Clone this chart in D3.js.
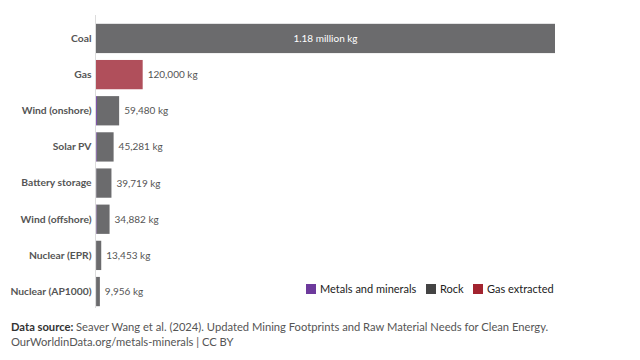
<!DOCTYPE html>
<html><head><meta charset="utf-8">
<script src="https://cdn.jsdelivr.net/npm/d3@7"></script>
<style>body{margin:0;background:#fff;}svg{display:block;font-family:Lato,"Noto Sans",sans-serif;}</style>
</head><body><svg id="c" width="640" height="360"></svg>
<script>
const categories = ["Coal","Gas","Wind (onshore)","Solar PV","Battery storage","Wind (offshore)","Nuclear (EPR)","Nuclear (AP1000)"];
const metals = [0, 0, 2500, 2000, 700, 1500, 300, 250];
const rock = [1180000, 0, 56980, 43281, 39019, 33382, 13153, 9706];
const gasExtracted = [0, 120000, 0, 0, 0, 0, 0, 0];
const totalLabels = ["1.18 million kg","120,000 kg","59,480 kg","45,281 kg","39,719 kg","34,882 kg","13,453 kg","9,956 kg"];
const seriesNames = ["Metals and minerals","Rock","Gas extracted"];

const svg = d3.select("#c");
const mLeft = 96, mRight = 555, mTop = 22, mBottom = 308;
const rows = categories.map((c,i)=>({cat:c, m:metals[i], r:rock[i], g:gasExtracted[i], label:totalLabels[i]}));
const x = d3.scaleLinear().domain([0, d3.max(rows, d=>d.m+d.r+d.g)]).range([mLeft, mRight]);
const y = d3.scaleBand().domain(categories).range([mTop, mBottom]).paddingInner(0.19).paddingOuter(0.05);

const barCol = {"Metals and minerals":"#7c4fa8","Rock":"#6b6b6d","Gas extracted":"#b04f5b"};
const legCol = {"Metals and minerals":"#6d3a9c","Rock":"#444444","Gas extracted":"#a2242f"};
const stack = d3.stack().keys(["m","r","g"])(rows);
const keyName = {m:"Metals and minerals", r:"Rock", g:"Gas extracted"};

svg.append("line").attr("x1",mLeft-0.5).attr("x2",mLeft-0.5).attr("y1",15).attr("y2",mBottom)
  .attr("stroke","#dcdcdc").attr("stroke-width",1);

stack.forEach(s=>{
  svg.append("g").selectAll("rect").data(s).join("rect")
    .attr("x",d=>x(d[0])).attr("width",d=>Math.max(0,x(d[1])-x(d[0])))
    .attr("y",d=>y(d.data.cat)).attr("height",y.bandwidth())
    .attr("fill",barCol[keyName[s.key]]);
});

const yAxis = d3.axisLeft(y).tickSize(0).tickPadding(4);
const ag = svg.append("g").attr("transform",`translate(${mLeft-0.5},0)`).call(yAxis);
ag.select(".domain").remove();
ag.selectAll("text").attr("font-family","Lato,sans-serif").attr("font-size",10.3)
  .attr("font-weight",700).attr("fill","#555");

svg.append("g").selectAll("text").data(rows).join("text")
  .attr("x",(d,i)=> i===0 ? (x(0)+x(d.m+d.r+d.g))/2 : x(d.m+d.r+d.g)+5)
  .attr("y",d=>y(d.cat)+y.bandwidth()/2).attr("dy","0.35em")
  .attr("text-anchor",(d,i)=> i===0 ? "middle":"start")
  .attr("font-size",10).attr("fill",(d,i)=> i===0 ? "#fff" : "#555")
  .text(d=>d.label);

const leg = svg.append("g");
const legX = [306, 426, 473];
seriesNames.forEach((n,i)=>{
  leg.append("rect").attr("x",legX[i]).attr("y",284).attr("width",10).attr("height",10).attr("fill",legCol[n]);
  leg.append("text").attr("x",legX[i]+14).attr("y",289).attr("dy","0.35em")
    .attr("font-size",11).attr("fill","#222").text(n);
});

const f = svg.append("g").attr("font-size",11.2).attr("fill","#555");
const t1 = f.append("text").attr("x",11).attr("y",331);
t1.append("tspan").attr("font-weight",700).attr("fill","#333").text("Data source: ");
t1.append("tspan").text("Seaver Wang et al. (2024). Updated Mining Footprints and Raw Material Needs for Clean Energy.");
f.append("text").attr("x",11).attr("y",346).text("OurWorldinData.org/metals-minerals | CC BY");
</script></body></html>
